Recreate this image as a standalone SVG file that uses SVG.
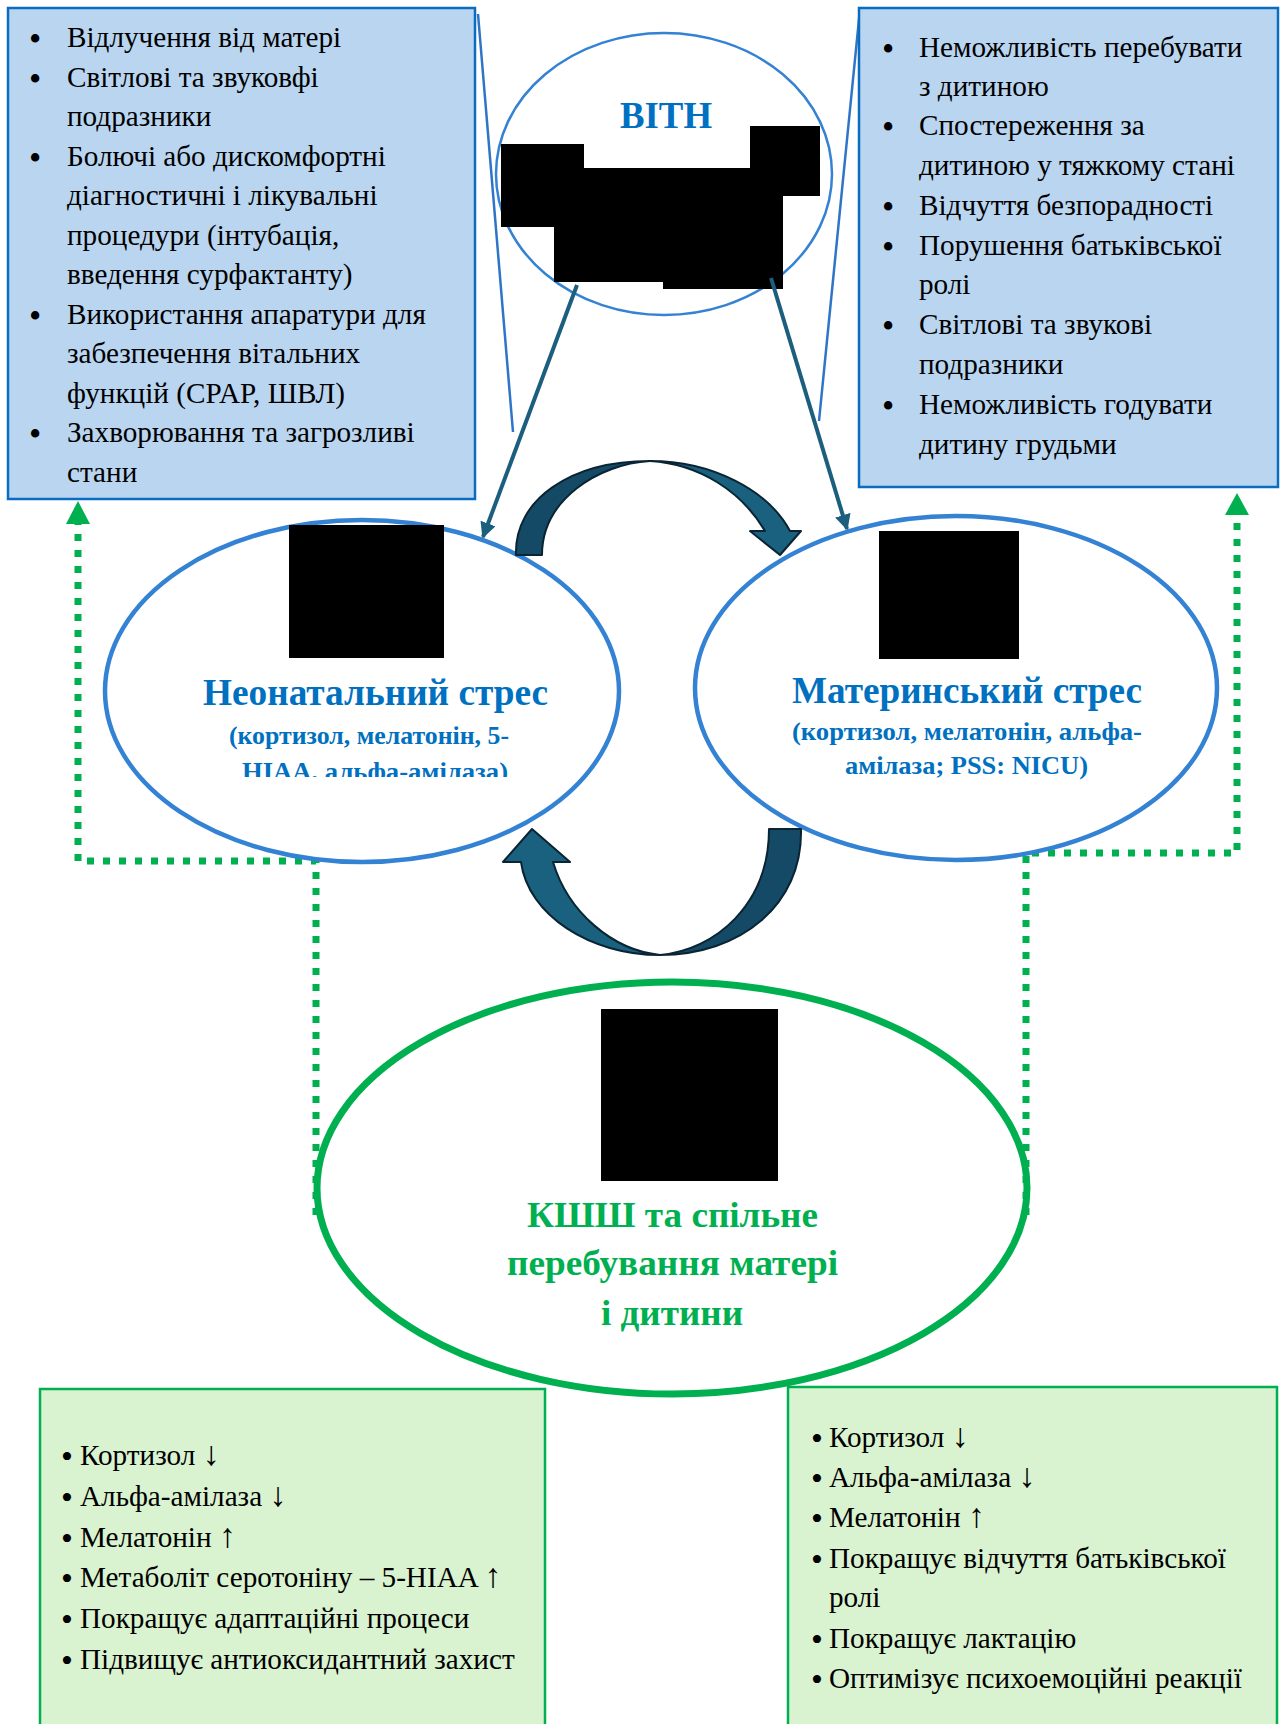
<svg xmlns="http://www.w3.org/2000/svg" width="1283" height="1724" viewBox="0 0 1283 1724">
<defs>
<style>
.body{font-family:"Liberation Serif","Times New Roman",serif;font-size:29.2px;fill:#000}
.bu{font-family:"Liberation Serif","Times New Roman",serif;font-size:35px;fill:#000}
.bs{font-family:"Liberation Serif","Times New Roman",serif;font-size:34px;fill:#000}
.ar{font-size:34px}
.bl{fill:#B9D5F0;stroke:#0A6CC0;stroke-width:2.5}
.gb{fill:#D9F2D0;stroke:#00B050;stroke-width:2.5}
.ttl{font-family:"Liberation Serif","Times New Roman",serif;font-weight:bold;fill:#0070C0}
.gt{font-family:"Liberation Serif","Times New Roman",serif;font-weight:bold;fill:#00B050;font-size:36px}
.ell{fill:#fff;stroke:#3482D3}
.dot{fill:none;stroke:#00B050;stroke-width:7;stroke-dasharray:7 9}
.thin{stroke:#1B5E7E;stroke-width:4;fill:none}
.cdark{fill:#144A66;stroke:#0A2433;stroke-width:2;stroke-linejoin:round}
.clight{fill:#19617F;stroke:#0A2433;stroke-width:2;stroke-linejoin:round}
</style>
<marker id="ah" viewBox="0 0 10 10" refX="9" refY="5" markerUnits="userSpaceOnUse" markerWidth="16" markerHeight="16" orient="auto">
<path d="M0,0 L10,5 L0,10 z" fill="#1B5E7E"/>
</marker>
<clipPath id="clipN"><rect x="0" y="0" width="1283" height="777"/></clipPath>
</defs>
<rect width="1283" height="1724" fill="#fff"/>

<g id="connectors">
<line x1="478" y1="14" x2="513" y2="432" stroke="#2E75C6" stroke-width="2.5"/>
<line x1="860" y1="9" x2="819" y2="421" stroke="#2E75C6" stroke-width="2.5"/>
<path class="dot" d="M316,1215 V861 H78 V524"/>
<polygon points="78,501 66,524 90,524" fill="#00B050"/>
<path class="dot" d="M1026,1215 V853 H1237 V515"/>
<polygon points="1237,493 1225,515 1249,515" fill="#00B050"/>
</g>

<g id="box-left-top">
<rect class="bl" x="8" y="8" width="467" height="491"/>
<g class="bu">
<text x="29" y="51">•</text>
<text x="29" y="91">•</text>
<text x="29" y="170">•</text>
<text x="29" y="328">•</text>
<text x="29" y="446">•</text>
</g>
<g class="body">
<text x="67" y="47">Відлучення від матері</text>
<text x="67" y="87">Світлові та звуковфі</text>
<text x="67" y="126">подразники</text>
<text x="67" y="166">Болючі або дискомфортні</text>
<text x="67" y="205">діагностичні і лікувальні</text>
<text x="67" y="245">процедури (інтубація,</text>
<text x="67" y="284">введення сурфактанту)</text>
<text x="67" y="324">Використання апаратури для</text>
<text x="67" y="363">забезпечення вітальних</text>
<text x="67" y="403">функцій (CPAP, ШВЛ)</text>
<text x="67" y="442">Захворювання та загрозливі</text>
<text x="67" y="482">стани</text>
</g>
</g>

<g id="box-right-top">
<rect class="bl" x="859" y="8" width="419" height="479"/>
<g class="bu">
<text x="882" y="61">•</text>
<text x="882" y="139">•</text>
<text x="882" y="219">•</text>
<text x="882" y="259">•</text>
<text x="882" y="338">•</text>
<text x="882" y="418">•</text>
</g>
<g class="body">
<text x="919" y="57">Неможливість перебувати</text>
<text x="919" y="96">з дитиною</text>
<text x="919" y="135">Спостереження за</text>
<text x="919" y="175">дитиною у тяжкому стані</text>
<text x="919" y="215">Відчуття безпорадності</text>
<text x="919" y="255">Порушення батьківської</text>
<text x="919" y="294">ролі</text>
<text x="919" y="334">Світлові та звукові</text>
<text x="919" y="374">подразники</text>
<text x="919" y="414">Неможливість годувати</text>
<text x="919" y="454">дитину грудьми</text>
</g>
</g>

<g id="node-bith">
<ellipse class="ell" cx="664" cy="174" rx="168" ry="141" stroke-width="2.5"/>
<text class="ttl" x="620" y="128" font-size="37" textLength="92" lengthAdjust="spacingAndGlyphs">ВІТН</text>
<rect x="501" y="144" width="83" height="83" fill="#000"/>
<rect x="554" y="168" width="229" height="114" fill="#000"/>
<rect x="750" y="126" width="70" height="70" fill="#000"/>
<rect x="663" y="168" width="120" height="121" fill="#000"/>
</g>

<g id="node-neonatal">
<ellipse class="ell" cx="362" cy="691" rx="257" ry="171" stroke-width="4.5"/>
<rect x="289" y="525" width="155" height="133" fill="#000"/>
<text class="ttl" x="203" y="705" font-size="37" textLength="345" lengthAdjust="spacingAndGlyphs">Неонатальний стрес</text>
<text class="ttl" x="229" y="744" font-size="25" textLength="280" lengthAdjust="spacingAndGlyphs">(кортизол, мелатонін, 5-</text>
<text class="ttl" x="242" y="780" font-size="25" textLength="266" lengthAdjust="spacingAndGlyphs" clip-path="url(#clipN)">HIAA, альфа-амілаза)</text>
</g>

<g id="node-maternal">
<ellipse class="ell" cx="956" cy="688" rx="261" ry="172" stroke-width="4.5"/>
<rect x="879" y="531" width="140" height="128" fill="#000"/>
<text class="ttl" x="792" y="703" font-size="37" textLength="350" lengthAdjust="spacingAndGlyphs">Материнський стрес</text>
<text class="ttl" x="792" y="740" font-size="25" textLength="350" lengthAdjust="spacingAndGlyphs">(кортизол, мелатонін, альфа-</text>
<text class="ttl" x="845" y="774" font-size="25" textLength="243" lengthAdjust="spacingAndGlyphs">амілаза; PSS: NICU)</text>
</g>

<g id="arrows">
<line class="thin" x1="577" y1="285" x2="483" y2="537" marker-end="url(#ah)"/>
<line class="thin" x1="771" y1="278" x2="847" y2="529" marker-end="url(#ah)"/>
<path class="cdark" d="M516,555 C514,500 570,461 650,461 C598,464 542,500 542,555 Z"/>
<path class="clight" d="M650,461 C712,461 768,490 790,531 L801,531 L780,555 L750,531 L765,531 C742,492 700,464 650,461 Z"/>
<path class="cdark" d="M801,829 C803,905 740,955 660,955 C715,950 769,905 769,829 Z"/>
<path class="clight" d="M660,955 C590,955 528,915 521,862 L503,862 L532,829 L570,862 L553,862 C568,912 612,950 660,955 Z"/>
</g>

<g id="box-left-bottom">
<rect class="gb" x="40" y="1389" width="505" height="345"/>
<g class="bs">
<text x="61" y="1468">•</text>
<text x="61" y="1509">•</text>
<text x="61" y="1550">•</text>
<text x="61" y="1590">•</text>
<text x="61" y="1631">•</text>
<text x="61" y="1672">•</text>
</g>
<g class="body">
<text x="80" y="1465">Кортизол <tspan class="ar">↓</tspan></text>
<text x="80" y="1506">Альфа-амілаза  <tspan class="ar">↓</tspan></text>
<text x="80" y="1547">Мелатонін <tspan class="ar">↑</tspan></text>
<text x="80" y="1587">Метаболіт серотоніну – 5-HIAA <tspan class="ar">↑</tspan></text>
<text x="80" y="1628">Покращує адаптаційні процеси</text>
<text x="80" y="1669">Підвищує антиоксидантний захист</text>
</g>
</g>

<g id="box-right-bottom">
<rect class="gb" x="788" y="1387" width="489" height="345"/>
<g class="bs">
<text x="811" y="1450">•</text>
<text x="811" y="1490">•</text>
<text x="811" y="1530">•</text>
<text x="811" y="1571">•</text>
<text x="811" y="1651">•</text>
<text x="811" y="1691">•</text>
</g>
<g class="body">
<text x="829" y="1447">Кортизол <tspan class="ar">↓</tspan></text>
<text x="829" y="1487">Альфа-амілаза <tspan class="ar">↓</tspan></text>
<text x="829" y="1527">Мелатонін <tspan class="ar">↑</tspan></text>
<text x="829" y="1568">Покращує відчуття батьківської</text>
<text x="829" y="1607">ролі</text>
<text x="829" y="1648">Покращує лактацію</text>
<text x="829" y="1688">Оптимізує психоемоційні реакції</text>
</g>
</g>

<g id="node-kangaroo">
<ellipse cx="672" cy="1188" rx="355" ry="206" fill="none" stroke="#00B050" stroke-width="7"/>
<rect x="601" y="1009" width="177" height="172" fill="#000"/>
<text class="gt" x="527" y="1227" textLength="291" lengthAdjust="spacingAndGlyphs">КШШ та спільне</text>
<text class="gt" x="507" y="1275" textLength="331" lengthAdjust="spacingAndGlyphs">перебування матері</text>
<text class="gt" x="601" y="1325" textLength="142" lengthAdjust="spacingAndGlyphs">і дитини</text>
</g>
</svg>
